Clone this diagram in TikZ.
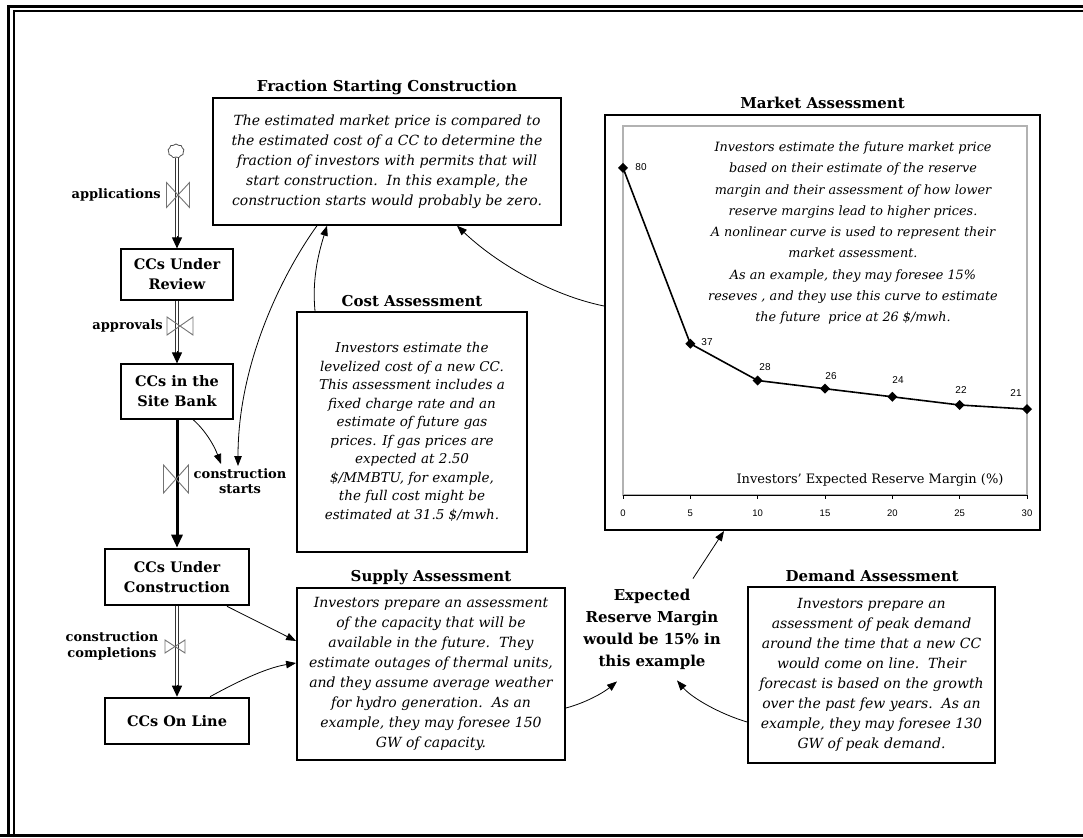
\documentclass[tikz,border=0pt]{standalone}
\usepackage{fontspec}
\setmainfont{DejaVu Serif}
\newfontfamily\chartsans{Liberation Sans}
\usetikzlibrary{arrows.meta,shapes.symbols}
\newcommand\drawvalve[4]{\draw[valvest] (#1-#3/2,#2-#4/2) -- (#1+#3/2,#2+#4/2) -- (#1+#3/2,#2-#4/2) -- (#1-#3/2,#2+#4/2) -- cycle;}
\begin{document}
\begin{tikzpicture}[x=1pt,y=-1pt,
  stock/.style={draw,line width=1.2pt,minimum width=112pt,align=center,inner sep=0pt,font=\fontsize{14.5}{20}\selectfont\bfseries},
  bigstock/.style={stock,line width=2.6pt,minimum width=144pt},
  note/.style={draw,line width=1.4pt,align=center,inner sep=0pt,font=\fontsize{14}{20}\selectfont\itshape},
  ttl/.style={font=\fontsize{15}{18}\selectfont\bfseries,inner sep=0pt},
  flowlbl/.style={font=\fontsize{13}{15.5}\selectfont\bfseries,align=center,inner sep=0pt},
  conn/.style={line width=0.8pt,-{Triangle[length=10pt,width=7.5pt]}},
  pipe/.style={draw=black!80,line width=0.8pt,double=white,double distance=2.6pt},
  flowtip/.style={line width=1pt,-{Triangle[length=11pt,width=10pt]}},
  valvest/.style={draw=black!55,line width=0.9pt},
  datalbl/.style={font=\chartsans\fontsize{10}{11}\selectfont,inner sep=0pt},
]
\useasboundingbox (0,0) rectangle (1083,837);
\fill[white] (0,0) rectangle (1083,837);
% frame
\draw[line width=3pt] (8.5,837) -- (8.5,6.5) -- (1083,6.5);
\draw[line width=2pt] (14,837) -- (14,11.5) -- (1083,11.5);
\draw[line width=3pt] (0,835.5) -- (1083,835.5);

% stocks
\node[cloud,cloud puffs=9,cloud puff arc=110,draw=black!70,line width=0.8pt,minimum width=16pt,minimum height=14pt,inner sep=0pt] (src) at (176,151) {};
\node[stock,minimum height=51pt] (review) at (177,274.5) {CCs Under\\Review};
\node[stock,minimum height=55pt] (bank) at (177,391.5) {CCs in the\\Site Bank};
\node[bigstock,minimum height=56pt] (ucon) at (177,577) {CCs Under\\Construction};
\node[bigstock,minimum height=46pt] (online) at (177,721) {CCs On Line};

% pipes
\draw[pipe] (src.south -| review.north) -- ([yshift=10pt]review.north);
\draw[flowtip] ([yshift=12pt]review.north) -- (review.north);
\draw[pipe] (review.south) -- ([yshift=10pt]bank.north);
\draw[flowtip] ([yshift=12pt]bank.north) -- (bank.north);
\draw[line width=3pt,-{Triangle[length=13pt,width=11pt]}] (bank.south) -- (ucon.north);
\draw[pipe] (ucon.south) -- ([yshift=10pt]online.north);
\draw[flowtip] ([yshift=12pt]online.north) -- (online.north);

% valves
\drawvalve{178}{195}{23}{25}
\drawvalve{180}{326}{26}{18}
\drawvalve{176}{479}{25}{28}
\drawvalve{175}{646.5}{20}{13}

% flow labels
\node[flowlbl,anchor=east] (app) at (161,195) {applications};
\node[flowlbl,anchor=east] (appr) at (163,326) {approvals};
\node[flowlbl] (cstart) at (240,481) {construction\\starts};
\node[flowlbl] (ccomp) at (112,646) {construction\\completions};

% fraction
\node[ttl] (fracT) at (387,87) {Fraction Starting Construction};
\node[note,minimum width=348pt,minimum height=127pt] (frac) at (387,161.5)
 {The estimated market price is compared to\\
  the estimated cost of a CC to determine the\\
  fraction of investors with permits that will\\
  start construction.\ \ In this example, the\\
  construction starts would probably be zero.};

% cost
\node[ttl] (costT) at (412,301) {Cost Assessment};
\node[note,line width=1.8pt,minimum width=230pt,minimum height=240pt,font=\fontsize{13.5}{18.5}\selectfont\itshape] (cost) at (412,432)
 {Investors estimate the\\levelized cost of a new CC.\\This assessment includes a\\fixed charge rate and an\\estimate of future gas\\prices. If gas prices are\\expected at 2.50\\\$/MMBTU, for example,\\the full cost might be\\estimated at 31.5 \$/mwh.};

% market
\node[ttl] (marketT) at (822.5,103) {Market Assessment};
\node[draw,line width=2pt,minimum width=435pt,minimum height=415pt,inner sep=0pt] (market) at (822.5,322.5) {};
\draw[black!30,line width=1.5pt] (623,126) rectangle (1027,495);
\draw[line width=0.9pt] (623,495) -- (1027,495);
\foreach \v in {0,5,...,30} {
  \draw[line width=0.6pt] (623+\v*13.467,495) -- (623+\v*13.467,499);
  \node[font=\chartsans\fontsize{9.5}{10}\selectfont,inner sep=0pt] at (623+\v*13.467,513) {\v};
}
\node[font=\fontsize{13}{14}\selectfont,inner sep=0pt] (axtitle) at (870,480) {Investors' Expected Reserve Margin (\%)};
\draw[line width=1.6pt] (623,167.8) -- (690.3,343.7) -- (757.7,380.5) -- (825,388.7) -- (892.3,396.8) -- (959.7,405) -- (1027,409.1);
\foreach \px/\py in {623/167.8,690.3/343.7,757.7/380.5,825/388.7,892.3/396.8,959.7/405,1027/409.1}
  \fill (\px-5,\py) -- (\px,\py-5) -- (\px+5,\py) -- (\px,\py+5) -- cycle;
\node[datalbl] at (641,167) {80};
\node[datalbl] at (707,342) {37};
\node[datalbl] at (765,367) {28};
\node[datalbl] at (831,376) {26};
\node[datalbl] at (898,380) {24};
\node[datalbl] at (961,390) {22};
\node[datalbl] at (1016,393) {21};
\node[font=\fontsize{12.8}{21.25}\selectfont\itshape,align=center,inner sep=0pt] (mtext) at (853,233)
 {Investors estimate the future market price\\based on their estimate of the reserve\\margin and their assessment of how lower\\reserve margins lead to higher prices.\\A nonlinear curve is used to represent their\\market assessment.\\As an example, they may foresee 15\%\\reseves , and they use this curve to estimate\\the future\ \ price at 26 \$/mwh.};

% supply
\node[ttl] (supT) at (431,577) {Supply Assessment};
\node[note,line width=1.8pt,minimum width=268pt,minimum height=172pt] (supply) at (431,674)
 {Investors prepare an assessment\\of the capacity that will be\\available in the future.\ \ They\\estimate outages of thermal units,\\and they assume average weather\\for hydro generation.\ \ As an\\example, they may foresee 150\\GW of capacity.};

% demand
\node[ttl] (demT) at (872,576) {Demand Assessment};
\node[note,line width=1.8pt,minimum width=247pt,minimum height=176pt] (demand) at (871.5,675)
 {Investors prepare an\\assessment of peak demand\\around the time that a new CC\\would come on line.\ \ Their\\forecast is based on the growth\\over the past few years.\ \ As an\\example, they may foresee 130\\GW of peak demand.};

% expected reserve margin
\node[font=\fontsize{15}{22}\selectfont\bfseries,align=center,inner sep=0pt] (erm) at (652,629)
 {Expected\\Reserve Margin\\would be 15\% in\\this example};

% connectors
\draw[conn] ([xshift=16pt]bank.south) .. controls (205,430) and (214,445) .. ([xshift=-19pt,yshift=4pt]cstart.north);
\draw[conn] ([xshift=-70pt]frac.south) .. controls (285,270) and (238,360) .. ([xshift=-2pt,yshift=2pt]cstart.north);
\draw[conn] ([xshift=-97pt]cost.north) .. controls (312,280) and (318,255) .. ([xshift=-60pt]frac.south);
\draw[conn] ([yshift=16.5pt]market.west) .. controls (550,295) and (495,262) .. ([xshift=70pt]frac.south);
\draw[conn] ([xshift=50pt]ucon.south) -- ([yshift=33pt]supply.west);
\draw[conn] ([xshift=33pt]online.north) .. controls (235,683) and (265,668) .. ([yshift=11pt]supply.west);
\draw[conn] ([yshift=-34pt]supply.east) .. controls (585,703) and (603,693) .. ([xshift=-35pt,yshift=-12pt]erm.south);
\draw[conn] ([yshift=-47pt]demand.west) .. controls (720,714) and (692,698) .. ([xshift=25pt,yshift=-11pt]erm.south);
\draw[conn] ([xshift=41pt,yshift=10pt]erm.north) -- ([xshift=-98.5pt]market.south);
\end{tikzpicture}
\end{document}
